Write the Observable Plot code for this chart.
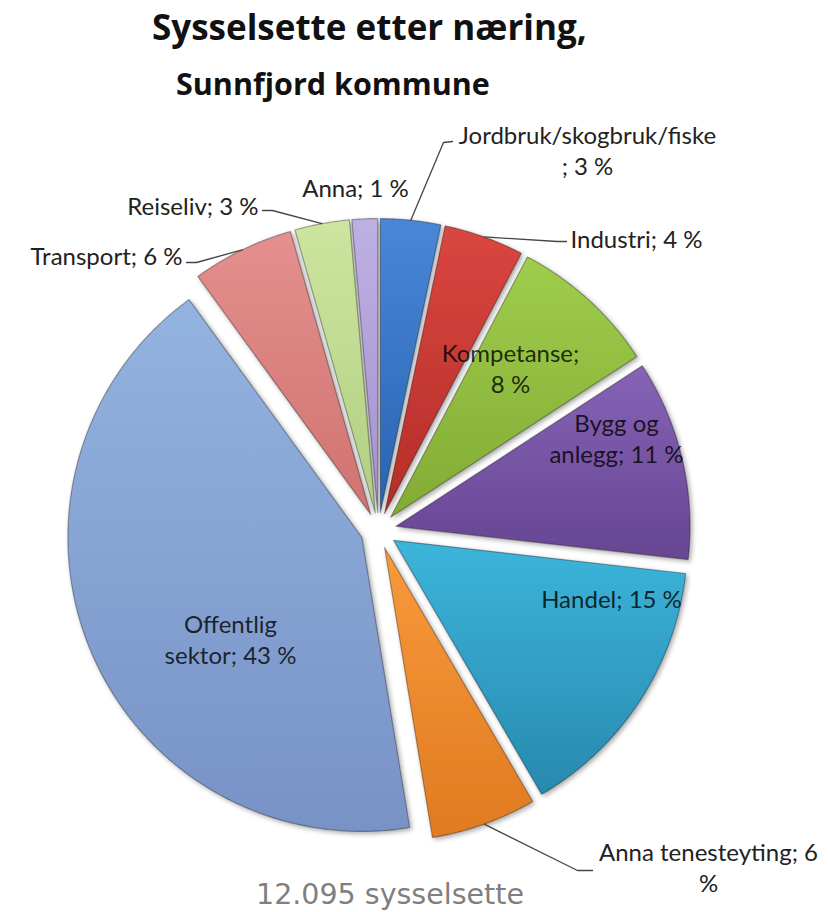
<!DOCTYPE html>
<html>
<head>
<meta charset="utf-8">
<script src="https://cdn.jsdelivr.net/npm/d3@7"></script>
<script src="https://cdn.jsdelivr.net/npm/@observablehq/plot@0.6"></script>
<style>
  body { margin: 0; background: #fff; }
  #wrap { position: relative; width: 828px; height: 912px; overflow: hidden; }
  #title, #subtitle { position: absolute; font-family: "Open Sans", sans-serif; font-weight: 700; color: #111; white-space: nowrap; line-height: 1; }
  #title { left: 152px; top: 9px; font-size: 35px; }
  #subtitle { left: 176px; top: 68px; font-size: 30.5px; }
  #chart { position: absolute; left: 0; top: 110px; }
  #caption { position: absolute; left: 256px; top: 881px; font-family: "DejaVu Sans", sans-serif; font-size: 28.5px; line-height: 1; color: #7f7f7f; white-space: nowrap; }
</style>
</head>
<body>
<div id="wrap">
  <div id="title">Sysselsette etter næring,</div>
  <div id="subtitle">Sunnfjord kommune</div>
  <div id="chart"></div>
  <div id="caption"></div>
</div>
<script>
// ---------- data ----------
const categories = ["Jordbruk/skogbruk/fiske", "Industri", "Kompetanse", "Bygg og anlegg", "Handel",
  "Anna tenesteyting", "Offentlig sektor", "Transport", "Reiseliv", "Anna"];
const shares = [3.3, 4.4, 8.1, 11.0, 14.8, 5.8, 42.6, 5.6, 3.0, 1.4];
const labelTexts = ["Jordbruk/skogbruk/fiske\n; 3 %", "Industri; 4 %", "Kompetanse;\n8 %", "Bygg og\nanlegg; 11 %",
  "Handel; 15 %", "Anna tenesteyting; 6\n%", "Offentlig\nsektor; 43 %", "Transport; 6 %", "Reiseliv; 3 %", "Anna; 1 %"];
const totalText = "12.095 sysselsette";

// ---------- styles / layout ----------
const lightColors = ["#4887d8", "#da4640", "#9fcd4c", "#8663b6", "#3cb5db", "#f89a3c", "#93b3e0", "#e4908e", "#cde59f", "#bfb0e2"];
const darkColors  = ["#2963b2", "#b42d28", "#82ab34", "#674592", "#2889ae", "#e07a20", "#7892c6", "#d07270", "#b0cf82", "#a391cf"];
const W = 828, H = 912, top0 = 110;
const cx = 378, cy = 530, R = 294, explode = 18;
// label layout (page pixel positions, anchor, inside?)
const labelX = [587, 570, 510, 616, 611, 708, 230, 182, 258, 355];
const labelY = [149, 238, 367, 437, 598, 866, 638, 255, 205, 187];
const labelAnchor = ["middle", "start", "middle", "middle", "middle", "middle", "middle", "end", "end", "middle"];
const labelInside = [false, false, true, true, true, false, true, false, false, false];
// leader line elbow/end for outside labels (null = no leader)
const leaderEnds = [[[443, 142], [452, 141]], [[557, 241], [566, 241]], null, null, null,
  [[577, 870], [592, 870]], null, [[196, 262], [186, 262]], [[272, 210], [262, 210]], null];

document.getElementById("caption").textContent = totalText;

// ---------- geometry from data ----------
const arcs = d3.pie().sort(null).value(d => d)(shares);
const slicePts = [];
const leaderPts = [];
arcs.forEach((p, i) => {
  const name = categories[i];
  const mid = (p.startAngle + p.endAngle) / 2;
  const ox = cx + explode * Math.sin(mid), oy = cy - explode * Math.cos(mid);
  slicePts.push({name, x: ox, y: oy});
  const n = Math.max(3, Math.ceil((p.endAngle - p.startAngle) / (Math.PI / 360)));
  for (let k = 0; k <= n; k++) {
    const a = p.startAngle + (p.endAngle - p.startAngle) * k / n;
    slicePts.push({name, x: ox + R * Math.sin(a), y: oy - R * Math.cos(a)});
  }
  slicePts.push({name, x: ox, y: oy});
  if (leaderEnds[i]) {
    leaderPts.push({name, x: ox + R * Math.sin(mid), y: oy - R * Math.cos(mid)});
    leaderEnds[i].forEach(([x, y]) => leaderPts.push({name, x, y}));
  }
});
const labelData = categories.map((c, i) => ({
  name: c, text: labelTexts[i], x: labelX[i], y: labelY[i], anchor: labelAnchor[i], inside: labelInside[i]
}));

const textCommon = {x: "x", y: "y", text: "text", fontFamily: "Lato, sans-serif", fontSize: 24, lineHeight: 1.3, lineAnchor: "middle"};

const chart = Plot.plot({
  width: W, height: H - top0, margin: 0,
  x: {domain: [0, W], range: [0, W], axis: null},
  y: {domain: [top0, H], range: [0, H - top0], axis: null},
  color: {domain: categories, range: lightColors},
  style: {background: "transparent", overflow: "visible"},
  marks: [
    Plot.line(slicePts, {x: "x", y: "y", z: "name", fill: "name", stroke: "#000", strokeOpacity: 0.32, strokeWidth: 1.2, curve: "linear"}),
    Plot.line(leaderPts, {x: "x", y: "y", z: "name", stroke: "#454545", strokeWidth: 1.3, curve: "linear"}),
    Plot.text(labelData, {...textCommon, filter: d => d.inside, textAnchor: "middle", fill: "#000", fillOpacity: 0.8}),
    Plot.text(labelData, {...textCommon, filter: d => !d.inside && d.anchor === "middle", textAnchor: "middle", fill: "#222"}),
    Plot.text(labelData, {...textCommon, filter: d => !d.inside && d.anchor === "start", textAnchor: "start", fill: "#222"}),
    Plot.text(labelData, {...textCommon, filter: d => !d.inside && d.anchor === "end", textAnchor: "end", fill: "#222"})
  ]
});

// gradients and shadow on the slice paths
const svg = d3.select(chart);
const defs = svg.insert("defs", ":first-child");
categories.forEach((c, i) => {
  const g = defs.append("linearGradient").attr("id", `grad${i}`).attr("x1", 0).attr("y1", 0).attr("x2", 0).attr("y2", 1);
  g.append("stop").attr("offset", "0%").attr("stop-color", lightColors[i]);
  g.append("stop").attr("offset", "100%").attr("stop-color", darkColors[i]);
});
const flt = defs.append("filter").attr("id", "shadow").attr("x", "-10%").attr("y", "-10%").attr("width", "120%").attr("height", "120%");
flt.append("feDropShadow").attr("dx", 2).attr("dy", 2).attr("stdDeviation", 2.5).attr("flood-color", "#000").attr("flood-opacity", 0.35);
const sliceGroup = svg.selectAll('g[aria-label="line"]').nodes()[0];
if (sliceGroup) {
  d3.select(sliceGroup).attr("filter", "url(#shadow)");
  d3.select(sliceGroup).selectAll("path").each(function () {
    const idx = lightColors.indexOf(this.getAttribute("fill"));
    if (idx >= 0) this.setAttribute("fill", `url(#grad${idx})`);
  });
}

document.getElementById("chart").appendChild(chart);
</script>
</body>
</html>
